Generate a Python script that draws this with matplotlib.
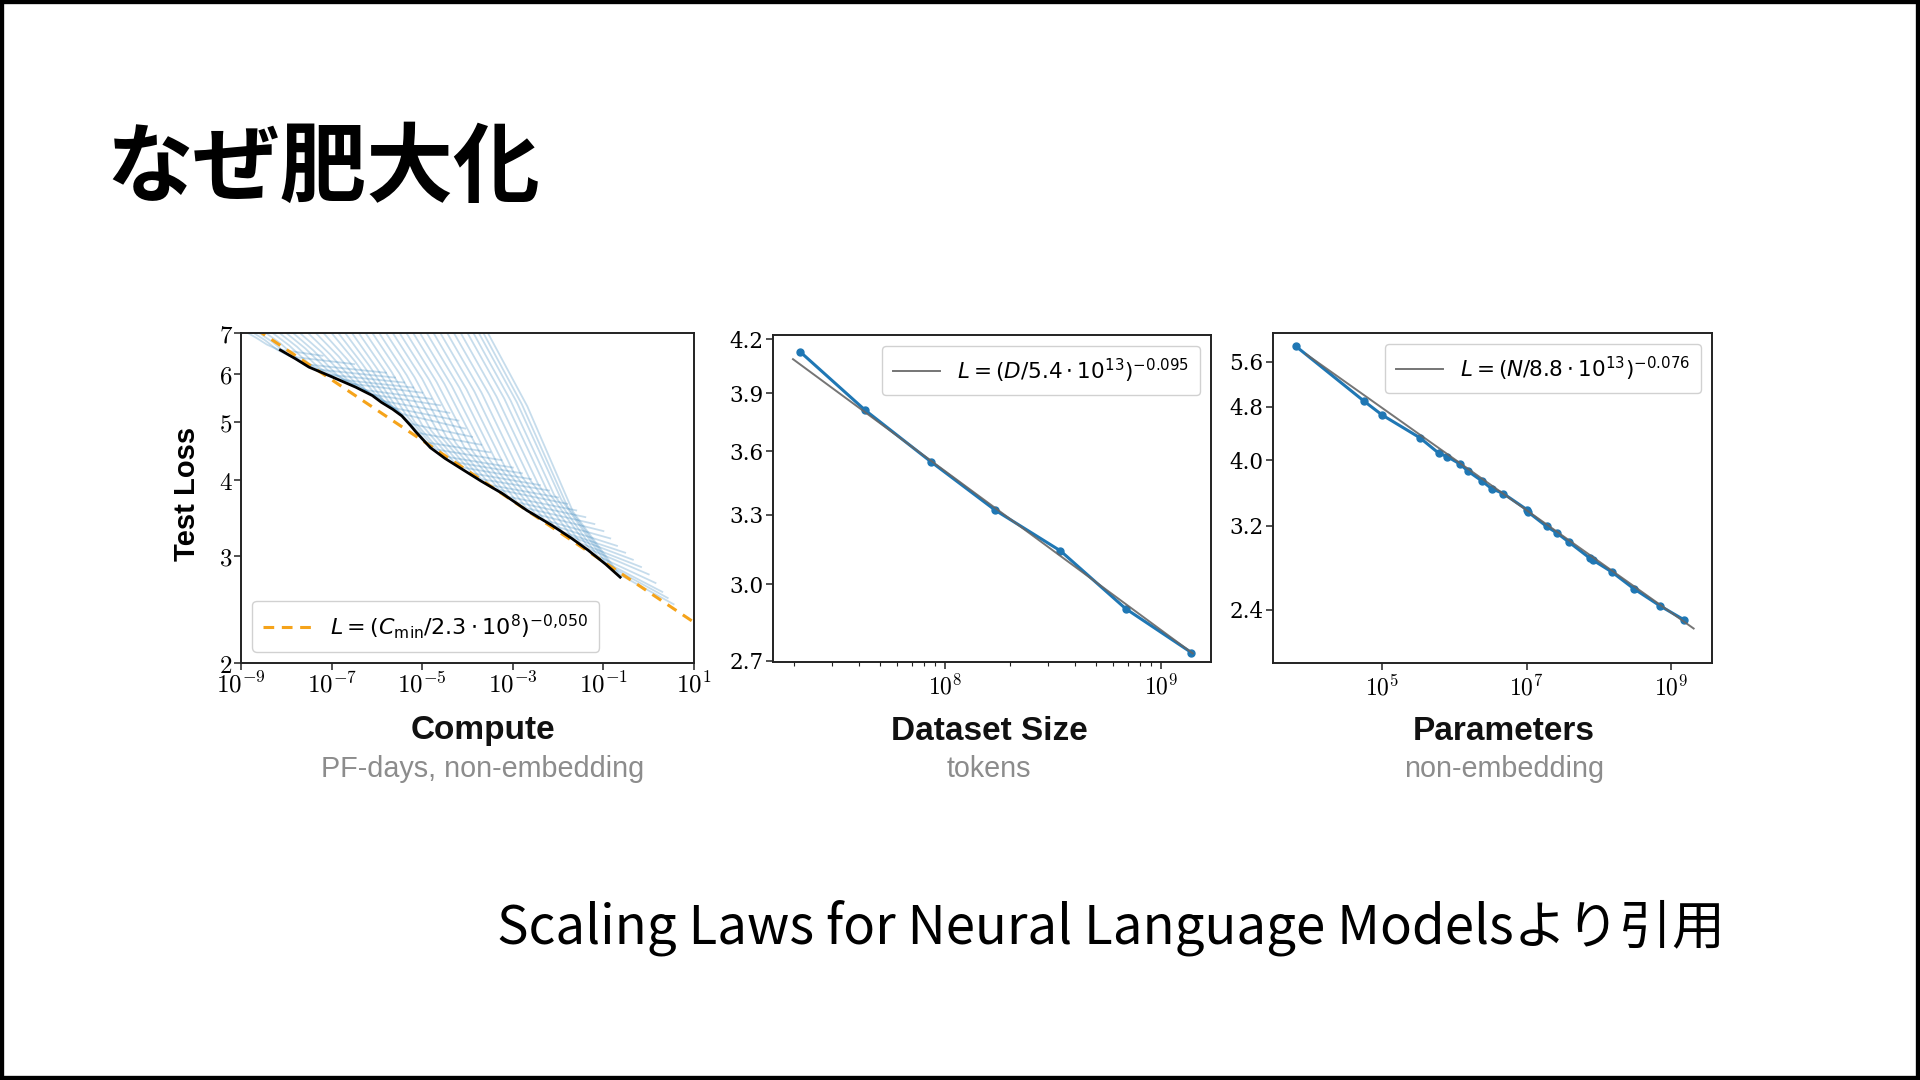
import numpy as np
import matplotlib
matplotlib.use('Agg')
import matplotlib.pyplot as plt
from matplotlib.font_manager import FontProperties
from matplotlib.ticker import FixedLocator, NullLocator, FuncFormatter, LogLocator
from matplotlib.patches import Rectangle

plt.rcParams['font.family'] = ['Liberation Sans', 'Noto Sans CJK JP', 'DejaVu Sans']
plt.rcParams['mathtext.fontset'] = 'cm'

# ---------------- Panel 1: Compute ----------------
# black frontier (log10 C, loss)
frontier_logC = [-8.13, -7.8, -7.5, -7.0, -6.47, -6.1, -5.9, -5.65, -5.45, -5.25, -5.13, -4.82,
                 -4.5, -4.11, -3.7, -3.24, -2.69, -2.13, -1.7, -1.34, -0.95, -0.63]
frontier_L = [6.56, 6.35, 6.15, 5.93, 5.70, 5.52, 5.38, 5.24, 5.11, 4.92, 4.80, 4.53,
              4.35, 4.17, 3.99, 3.81, 3.57, 3.37, 3.21, 3.07, 2.91, 2.77]

# learning curves (set A): entry at top edge, two mid points, contact with frontier, end point
curveA_top_logC = [-8.85, -8.6, -8.3, -8.0, -7.7, -7.35, -7.0, -6.7, -6.4, -6.1,
                   -5.8, -5.5, -5.2, -4.9, -4.6, -4.3, -4.0, -3.75, -3.55]
curveA_m1_logC = [-8.66, -8.3, -7.94, -7.58, -7.22, -6.84, -6.48, -6.16, -5.83, -5.5,
                  -5.17, -4.84, -4.51, -4.18, -3.85, -3.52, -3.19, -2.91, -2.68]
curveA_m1_L = [6.87, 6.76, 6.68, 6.60, 6.51, 6.40, 6.28, 6.17, 6.07, 6.00,
               5.92, 5.85, 5.77, 5.69, 5.61, 5.54, 5.46, 5.38, 5.30]
curveA_m2_logC = [-8.43, -7.95, -7.52, -7.09, -6.66, -6.25, -5.86, -5.53, -5.17, -4.8,
                  -4.44, -4.07, -3.7, -3.34, -2.98, -2.61, -2.25, -1.93, -1.67]
curveA_m2_L = [6.70, 6.43, 6.25, 6.08, 5.87, 5.64, 5.42, 5.22, 5.00, 4.83,
               4.68, 4.54, 4.40, 4.26, 4.12, 4.00, 3.86, 3.72, 3.55]
curveA_c_logC = [-8.2, -7.6, -7.1, -6.6, -6.1, -5.65, -5.25, -4.9, -4.5, -4.1,
                 -3.7, -3.3, -2.9, -2.5, -2.1, -1.7, -1.3, -0.95, -0.65]
curveA_c_L = [6.58, 6.22, 5.98, 5.78, 5.54, 5.27, 4.96, 4.62, 4.38, 4.20,
              4.02, 3.86, 3.68, 3.52, 3.37, 3.23, 3.08, 2.93, 2.80]
curveA_e_logC = [-7.2, -5.8, -5.4, -5.0, -4.6, -4.2, -3.9, -3.5, -3.0, -2.6,
                 -2.2, -1.8, -1.4, -1.0, -0.7, -0.35, 0.0, 0.3, 0.55]
curveA_e_L = [6.42, 6.02, 5.80, 5.58, 5.32, 5.02, 4.72, 4.45, 4.20, 4.02,
              3.85, 3.66, 3.48, 3.30, 3.12, 2.96, 2.80, 2.62, 2.50]

# learning curves (set B), lying between those of set A
curveB_top_logC = [-8.72, -8.45, -8.15, -7.85, -7.52, -7.18, -6.85, -6.55, -6.25, -5.95,
                   -5.65, -5.35, -5.05, -4.75, -4.45, -4.15, -3.87, -3.65]
curveB_m1_logC = [-8.48, -8.12, -7.76, -7.40, -7.03, -6.66, -6.32, -6.0, -5.67, -5.34,
                  -5.0, -4.68, -4.35, -4.02, -3.69, -3.36, -3.05, -2.8]
curveB_m1_L = [6.82, 6.72, 6.64, 6.55, 6.45, 6.34, 6.22, 6.12, 6.03, 5.96,
               5.88, 5.81, 5.73, 5.65, 5.58, 5.50, 5.42, 5.34]
curveB_m2_logC = [-8.19, -7.74, -7.31, -6.88, -6.46, -6.05, -5.70, -5.35, -4.99, -4.62,
                  -4.26, -3.89, -3.52, -3.16, -2.80, -2.43, -2.09, -1.80]
curveB_m2_L = [6.56, 6.34, 6.16, 5.97, 5.77, 5.56, 5.34, 5.12, 4.92, 4.76,
               4.61, 4.47, 4.33, 4.19, 4.06, 3.93, 3.79, 3.63]
curveB_c_logC = [-7.9, -7.35, -6.85, -6.35, -5.88, -5.45, -5.08, -4.7, -4.3, -3.9,
                 -3.5, -3.1, -2.7, -2.3, -1.9, -1.5, -1.12, -0.8]
curveB_c_L = [6.40, 6.10, 5.87, 5.65, 5.41, 5.15, 4.79, 4.50, 4.29, 4.11,
              3.93, 3.76, 3.60, 3.44, 3.29, 3.15, 3.00, 2.87]
curveB_e_logC = [-6.5, -5.6, -5.2, -4.8, -4.4, -4.05, -3.7, -3.25, -2.8, -2.4,
                 -2.0, -1.6, -1.2, -0.85, -0.52, -0.17, 0.15, 0.42]
curveB_e_L = [6.22, 5.91, 5.69, 5.45, 5.17, 4.87, 4.58, 4.32, 4.11, 3.93,
              3.75, 3.57, 3.39, 3.21, 3.04, 2.88, 2.71, 2.56]

compute_fit_C = [1e-9, 10.0]
compute_fit_Cc = 2.3e8
compute_fit_alpha = 0.050

# ---------------- Panel 2: Dataset Size ----------------
dataset_tokens = [2.13e7, 4.27e7, 8.59e7, 1.71e8, 3.42e8, 6.85e8, 1.38e9]
dataset_loss = [4.13, 3.81, 3.55, 3.32, 3.14, 2.90, 2.73]
data_fit_D = [1.98e7, 1.40e9]
data_fit_Dc = 5.4e13
data_fit_alpha = 0.095

# ---------------- Panel 3: Parameters ----------------
params_N = [6.37e3, 5.57e4, 1.0e5, 3.33e5, 6.04e5, 7.96e5, 1.19e6, 1.56e6, 2.38e6, 3.27e6,
            4.75e6, 1.0e7, 1.05e7, 1.89e7, 2.61e7, 3.90e7, 7.55e7, 8.39e7, 1.51e8, 3.01e8,
            7.05e8, 1.48e9]
params_loss = [5.91, 4.90, 4.67, 4.32, 4.10, 4.05, 3.95, 3.85, 3.73, 3.63,
               3.57, 3.38, 3.35, 3.19, 3.12, 3.02, 2.86, 2.84, 2.73, 2.58,
               2.43, 2.32]
param_fit_N = [8.9e3, 2.04e9]
param_fit_Nc = 8.8e13
param_fit_alpha = 0.076

compute_yticks = [2, 3, 4, 5, 6, 7]
compute_xticks = [1e-9, 1e-7, 1e-5, 1e-3, 1e-1, 1e1]
dataset_yticks = [2.7, 3.0, 3.3, 3.6, 3.9, 4.2]
dataset_xticks = [1e8, 1e9]
param_yticks = [2.4, 3.2, 4.0, 4.8, 5.6]
param_xticks = [1e5, 1e7, 1e9]

BLUE = '#1f77b4'
W, H = 1920, 1080
fig = plt.figure(figsize=(19.2, 10.8), dpi=100)
fig.patch.set_facecolor('white')


def ax_rect(l, t, r, b):
    return [l / W, 1 - b / H, (r - l) / W, (b - t) / H]


def log_fmt(v, pos):
    e = int(round(np.log10(v)))
    return r'$10^{%d}$' % e


def style_axes(ax):
    for s in ax.spines.values():
        s.set_linewidth(1.4)
        s.set_color('#222222')
    ax.tick_params(which='major', length=5, width=1.1, color='#222222')
    ax.tick_params(which='minor', length=3, width=0.8, color='#222222')


def leg_prop(size):
    return FontProperties(family='DejaVu Sans', size=size, math_fontfamily='dejavusans')


# ---- Panel 1
ax1 = fig.add_axes(ax_rect(241, 333, 694, 663))
ax1.set_xscale('log')
ax1.set_yscale('log')
curve_sets = [
    (curveA_top_logC, curveA_m1_logC, curveA_m1_L, curveA_m2_logC, curveA_m2_L,
     curveA_c_logC, curveA_c_L, curveA_e_logC, curveA_e_L),
    (curveB_top_logC, curveB_m1_logC, curveB_m1_L, curveB_m2_logC, curveB_m2_L,
     curveB_c_logC, curveB_c_L, curveB_e_logC, curveB_e_L),
]
for tx, m1x, m1y, m2x, m2y, cx, cy, ex, ey in curve_sets:
    for i in range(len(tx)):
        xs = [tx[i], m1x[i], m2x[i], cx[i], ex[i]]
        ys = [7.0, m1y[i], m2y[i], cy[i], ey[i]]
        ax1.plot(10.0 ** np.array(xs), ys, color=BLUE, alpha=0.25, lw=1.3, zorder=1,
                 solid_joinstyle='round')
fitC = np.array(compute_fit_C)
ax1.plot(fitC, (fitC / compute_fit_Cc) ** (-compute_fit_alpha), color='#f5a31a', lw=2.2,
         ls=(0, (3.5, 2.5)), zorder=2,
         label=r'$L = (C_{\mathrm{min}}/2.3\cdot10^{8})^{-0{,}050}$')
ax1.plot(10.0 ** np.array(frontier_logC), frontier_L, color='black', lw=2.0, zorder=3)
ax1.set_xlim(1e-9, 1e1)
ax1.set_ylim(2, 7)
ax1.xaxis.set_major_locator(FixedLocator(compute_xticks))
ax1.xaxis.set_minor_locator(NullLocator())
ax1.xaxis.set_major_formatter(FuncFormatter(log_fmt))
ax1.yaxis.set_major_locator(FixedLocator(compute_yticks))
ax1.yaxis.set_minor_locator(NullLocator())
ax1.yaxis.set_major_formatter(FuncFormatter(lambda v, p: r'$%d$' % int(round(v))))
ax1.tick_params(labelsize=18, pad=1)
style_axes(ax1)
ax1.legend(loc='lower left', prop=leg_prop(16), handlelength=2.2, borderpad=0.5,
           framealpha=0.9, edgecolor='#cccccc')

# ---- Panel 2
ax2 = fig.add_axes(ax_rect(773, 335, 1211, 662))
ax2.set_xscale('log')
ax2.set_yscale('log')
ax2.plot(dataset_tokens, dataset_loss, color=BLUE, lw=2.2, marker='o', ms=5, zorder=2)
fitD = np.array(data_fit_D)
ax2.plot(fitD, (fitD / data_fit_Dc) ** (-data_fit_alpha), color='#666666', lw=1.4, zorder=3,
         alpha=0.9, label=r'$L = (D/5.4\cdot10^{13})^{-0.095}$')
ax2.set_xlim(1.6e7, 1.7e9)
ax2.set_ylim(2.695, 4.225)
ax2.xaxis.set_major_locator(FixedLocator(dataset_xticks))
ax2.xaxis.set_minor_locator(LogLocator(base=10, subs=np.arange(2, 10)))
ax2.xaxis.set_major_formatter(FuncFormatter(log_fmt))
ax2.xaxis.set_minor_formatter(FuncFormatter(lambda v, p: ''))
ax2.yaxis.set_major_locator(FixedLocator(dataset_yticks))
ax2.yaxis.set_minor_locator(NullLocator())
ax2.yaxis.set_major_formatter(FuncFormatter(lambda v, p: '%.1f' % v))
ax2.tick_params(axis='y', labelsize=15.5, labelfontfamily='DejaVu Serif', pad=2)
ax2.tick_params(axis='x', labelsize=17)
style_axes(ax2)
ax2.legend(loc='upper right', prop=leg_prop(15.5), handlelength=2.2, borderpad=0.5,
           framealpha=0.9, edgecolor='#cccccc')

# ---- Panel 3
ax3 = fig.add_axes(ax_rect(1273, 333, 1712, 663))
ax3.set_xscale('log')
ax3.set_yscale('log')
ax3.plot(params_N, params_loss, color=BLUE, lw=2.2, marker='o', ms=5, zorder=2)
fitN = np.array(param_fit_N)
ax3.plot(fitN, (fitN / param_fit_Nc) ** (-param_fit_alpha), color='#666666', lw=1.4, zorder=3,
         alpha=0.9, label=r'$L = (N/8.8\cdot10^{13})^{-0.076}$')
ax3.set_xlim(3.1e3, 3.66e9)
ax3.set_ylim(2.0, 6.18)
ax3.xaxis.set_major_locator(FixedLocator(param_xticks))
ax3.xaxis.set_minor_locator(NullLocator())
ax3.xaxis.set_major_formatter(FuncFormatter(log_fmt))
ax3.yaxis.set_major_locator(FixedLocator(param_yticks))
ax3.yaxis.set_minor_locator(NullLocator())
ax3.yaxis.set_major_formatter(FuncFormatter(lambda v, p: '%.1f' % v))
ax3.tick_params(axis='y', labelsize=15.5, labelfontfamily='DejaVu Serif', pad=2)
ax3.tick_params(axis='x', labelsize=17)
style_axes(ax3)
ax3.legend(loc='upper right', prop=leg_prop(15.5), handlelength=2.2, borderpad=0.5,
           framealpha=0.9, edgecolor='#cccccc')


# ---- axis titles (as figure text)
def ftext(x, y, s, **kw):
    fig.text(x / W, 1 - y / H, s, **kw)


ftext(187, 494, 'Test Loss', rotation=90, ha='center', va='center', fontsize=21,
      fontweight='bold', family='Liberation Sans')
for cx, t1, t2 in [(483, 'Compute', 'PF-days, non-embedding'),
                   (989, 'Dataset Size', 'tokens'),
                   (1504, 'Parameters', 'non-embedding')]:
    ftext(cx, 731, t1, ha='center', va='center', fontsize=24, fontweight='bold',
          family='Liberation Sans', color='#111111')
    ftext(cx, 769, t2, ha='center', va='center', fontsize=20.7, family='Liberation Sans',
          color='#8c8c8c')

# ---- slide title and caption
ftext(106, 195, 'なぜ肥大化', ha='left', va='baseline', fontsize=62.5, fontweight='bold',
      family=['Noto Sans CJK JP', 'DejaVu Sans'], color='black')
ftext(497, 944, 'Scaling Laws for Neural Language Modelsより引用', ha='left', va='baseline',
      fontsize=38, family=['Noto Sans CJK JP', 'DejaVu Sans'], color='black')

# ---- slide border
fig.patches.append(Rectangle((0, 0), 1, 1, transform=fig.transFigure, fill=False,
                             edgecolor='black', lw=6, zorder=10))

fig.savefig('out.png', dpi=100, facecolor='white')
